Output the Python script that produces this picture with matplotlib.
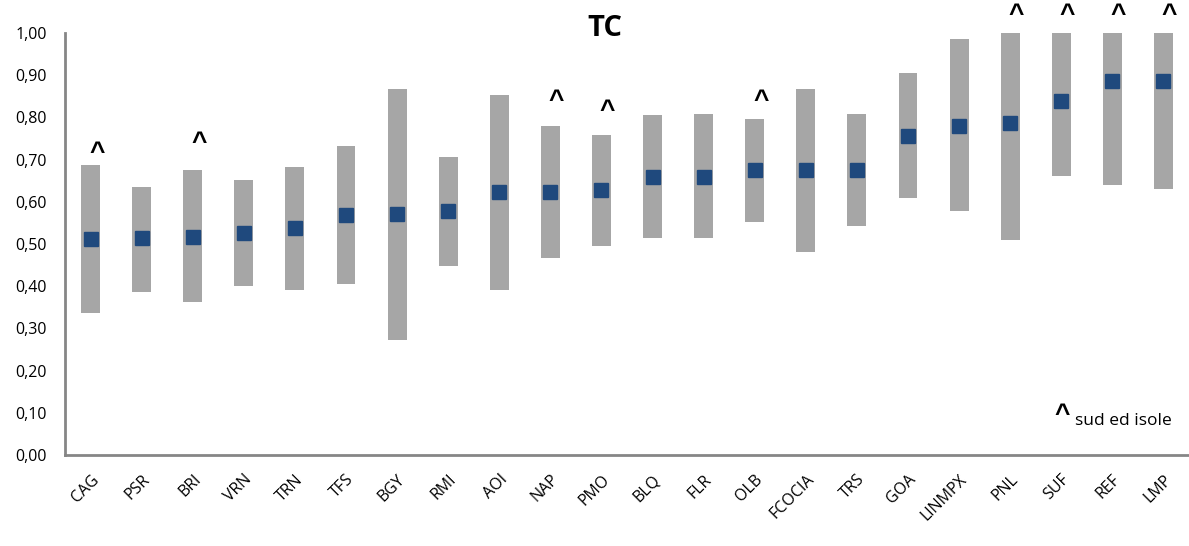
import numpy as np
import matplotlib.pyplot as plt

plt.rcParams['font.family'] = ['Open Sans', 'DejaVu Sans']

# categories and values
labels = ["CAG", "PSR", "BRI", "VRN", "TRN", "TFS", "BGY", "RMI", "AOI", "NAP", "PMO",
          "BLQ", "FLR", "OLB", "FCOCIA", "TRS", "GOA", "LINMPX", "PNL", "SUF", "REF", "LMP"]
low = [0.337, 0.387, 0.363, 0.400, 0.392, 0.405, 0.272, 0.449, 0.392, 0.467, 0.496,
       0.514, 0.514, 0.553, 0.480, 0.543, 0.610, 0.577, 0.509, 0.660, 0.639, 0.630]
high = [0.686, 0.636, 0.675, 0.652, 0.683, 0.733, 0.867, 0.706, 0.854, 0.779, 0.758,
        0.806, 0.808, 0.795, 0.867, 0.808, 0.904, 0.985, 1.000, 1.000, 1.000, 1.000]
mid = [0.511, 0.514, 0.516, 0.525, 0.537, 0.568, 0.571, 0.577, 0.623, 0.623, 0.627,
       0.659, 0.659, 0.675, 0.675, 0.675, 0.756, 0.779, 0.786, 0.838, 0.886, 0.886]
# "sud ed isole" flags and the height where the mark sits
south = ["CAG", "BRI", "NAP", "PMO", "OLB", "PNL", "SUF", "REF", "LMP"]
flag_y = [0.73, 0.755, 0.855, 0.83, 0.855, 1.057, 1.057, 1.057, 1.057]

x = np.arange(len(labels))
low = np.array(low)
high = np.array(high)

fig = plt.figure(figsize=(11.89, 5.46), dpi=100)
ax = fig.add_axes([0.0547, 0.1667, 0.9453, 0.7729])

ax.bar(x, high - low, bottom=low, width=0.37, color='#A6A6A6', zorder=2)
ax.plot(x, mid, linestyle='none', marker='s', markersize=10.5,
        color='#1F497D', zorder=3)

caret = dict(family='Liberation Sans', fontweight='bold', fontsize=19,
             ha='center', va='baseline')
for name, fy in zip(south, flag_y):
    i = labels.index(name)
    # shift the baseline down so the glyph itself sits on fy
    ax.text(x[i] + 0.12, fy - 0.032, '^', clip_on=False, **caret)

ax.set_xlim(-0.5, len(labels) - 0.5)
ax.set_ylim(0, 1)
ax.set_yticks(np.arange(0, 1.01, 0.1))
ax.set_yticklabels([f"{v:.2f}".replace('.', ',') for v in np.arange(0, 1.01, 0.1)],
                   fontsize=11.5)
ax.set_xticks(x)
ax.set_xticklabels(labels, rotation=45, ha='right', rotation_mode='anchor', fontsize=11.5)
ax.tick_params(axis='y', length=0, pad=13)
ax.tick_params(axis='x', length=0, pad=12)

for s in ['top', 'right']:
    ax.spines[s].set_visible(False)
for s in ['left', 'bottom']:
    ax.spines[s].set_color('#868686')
    ax.spines[s].set_linewidth(2)

fig.text(605 / 1189, 1 - 28 / 546, 'TC', ha='center', va='center',
         fontsize=21, fontweight='bold')
fig.text(1062 / 1189, 1 - 422 / 546, '^', **caret)
fig.text(1075 / 1189, 1 - 421 / 546, 'sud ed isole', ha='left', va='center',
         fontsize=12.5)

fig.savefig('out.png', dpi=100)
